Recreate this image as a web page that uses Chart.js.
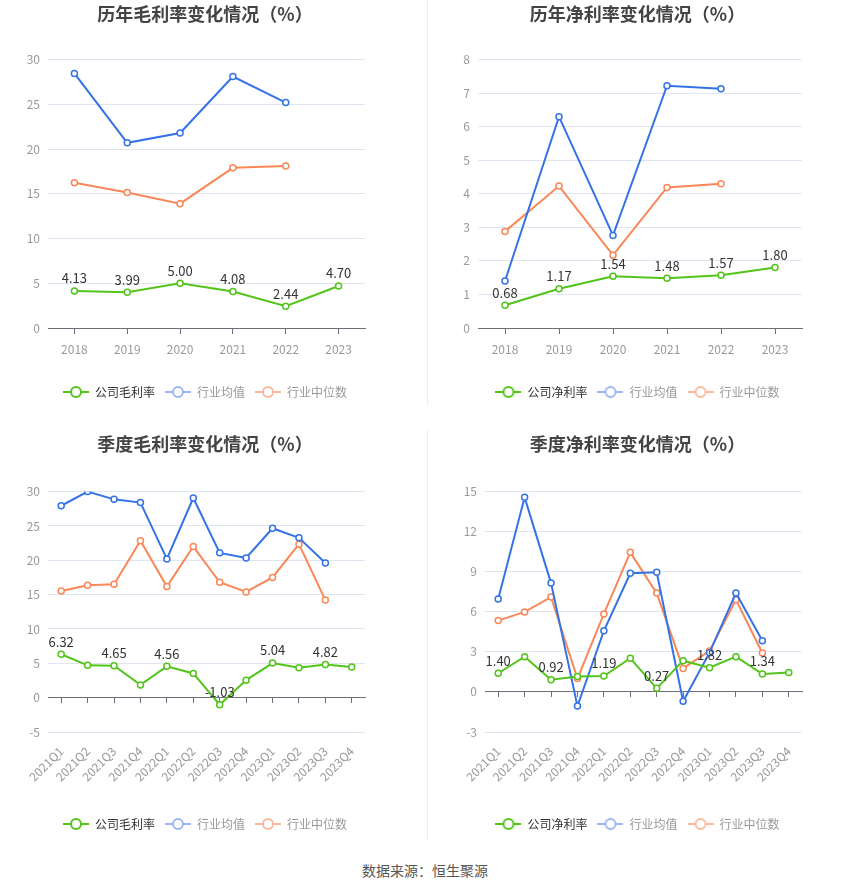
<!DOCTYPE html>
<html>
<head>
<meta charset="utf-8">
<script src="https://cdn.jsdelivr.net/npm/chart.js@4.4.1/dist/chart.umd.min.js"></script>
<style>
  body { margin: 0; background: #fff; width: 850px; height: 891px; position: relative; overflow: hidden; }
  .box { position: absolute; }
  .divider { position: absolute; left: 427px; width: 1px; background: #eeeeee; }
  #source { position: absolute; left: 0; width: 850px; top: 860px; text-align: center;
    font: 14px "Noto Sans CJK SC", "Noto Sans", sans-serif; color: #555; }
</style>
</head>
<body>
<div class="box" style="left:0;top:0;width:410px;height:410px"><canvas id="c1"></canvas></div>
<div class="box" style="left:425px;top:0;width:425px;height:410px"><canvas id="c2"></canvas></div>
<div class="box" style="left:0;top:430px;width:410px;height:415px"><canvas id="c3"></canvas></div>
<div class="box" style="left:425px;top:430px;width:425px;height:415px"><canvas id="c4"></canvas></div>
<div class="divider" style="top:0;height:405px"></div>
<div class="divider" style="top:430px;height:410px"></div>
<div id="source">数据来源：恒生聚源</div>
<script>
// years
const years = ['2018', '2019', '2020', '2021', '2022', '2023'];
const grossCompany = [4.13, 3.99, 5.00, 4.08, 2.44, 4.70];
const grossAvg = [28.46, 20.7, 21.8, 28.1, 25.2];
const grossMedian = [16.24, 15.15, 13.9, 17.9, 18.1];

const netCompany = [0.68, 1.17, 1.54, 1.48, 1.57, 1.80];
const netAvg = [1.40, 6.30, 2.76, 7.22, 7.13];
const netMedian = [2.88, 4.23, 2.17, 4.19, 4.30];

// quarters
const quarters = ['2021Q1', '2021Q2', '2021Q3', '2021Q4', '2022Q1', '2022Q2', '2022Q3', '2022Q4', '2023Q1', '2023Q2', '2023Q3', '2023Q4'];
const qGrossCompany = [6.32, 4.70, 4.65, 1.86, 4.56, 3.53, -1.03, 2.55, 5.04, 4.36, 4.82, 4.46];
const qGrossAvg = [27.94, 30.0, 28.87, 28.4, 20.2, 29.07, 21.08, 20.34, 24.66, 23.28, 19.6];
const qGrossMedian = [15.54, 16.37, 16.52, 22.84, 16.18, 22.0, 16.8, 15.4, 17.5, 22.35, 14.2];

const qNetCompany = [1.40, 2.64, 0.92, 1.16, 1.19, 2.52, 0.27, 2.34, 1.82, 2.64, 1.34, 1.46];
const qNetAvg = [6.95, 14.57, 8.15, -1.06, 4.58, 8.88, 8.96, -0.70, 2.94, 7.40, 3.83];
const qNetMedian = [5.34, 5.99, 7.10, 1.0, 5.84, 10.45, 7.40, 1.76, 3.07, 6.90, 2.92];

const FONT = '"Noto Sans CJK SC", "Noto Sans", sans-serif';
const GREEN = '#52c41a';
const BLUE = '#3473e6';
const ORANGE = '#fa8757';

// legend marker: short line with hollow circle
function marker(color) {
    const c = document.createElement('canvas');
    c.width = 26; c.height = 14;
    const g = c.getContext('2d');
    g.strokeStyle = color;
    g.lineWidth = 2;
    g.beginPath(); g.moveTo(0, 7); g.lineTo(26, 7); g.stroke();
    g.fillStyle = '#fff';
    g.beginPath(); g.arc(13, 7, 5, 0, Math.PI * 2); g.fill(); g.stroke();
    return c;
}
const legendStyle = [
    { img: marker(GREEN), text: '#333' },
    { img: marker('#9ab8f5'), text: '#999' },
    { img: marker('#fdb8a0'), text: '#999' }
];

// value labels over company series
const valueLabels = {
    id: 'valueLabels',
    afterDatasetsDraw(chart, args, opts) {
        const ctx = chart.ctx;
        const meta = chart.getDatasetMeta(0);
        const data = chart.data.datasets[0].data;
        ctx.save();
        ctx.font = '13px ' + FONT;
        ctx.fillStyle = '#333';
        ctx.textAlign = 'center';
        ctx.textBaseline = 'bottom';
        meta.data.forEach((pt, i) => {
            if (i % opts.every !== 0) return;
            ctx.fillText(data[i].toFixed(2), pt.x, pt.y - 6);
        });
        ctx.restore();
    }
};

function makeChart(id, title, labels, company, avg, median, companyName, yMin, yMax, step, cfg) {
    const ds = (label, data, color) => ({
        label: label, data: data, borderColor: color, backgroundColor: '#fff',
        borderWidth: 2, pointRadius: 3, pointBorderWidth: 1.5, pointBackgroundColor: '#fff',
        pointBorderColor: color, tension: 0
    });
    return new Chart(document.getElementById(id), {
        type: 'line',
        data: {
            labels: labels,
            datasets: [
                ds(companyName, company, GREEN),
                ds('行业均值', avg, BLUE),
                ds('行业中位数', median, ORANGE)
            ]
        },
        plugins: [valueLabels],
        options: {
            responsive: true,
            maintainAspectRatio: false,
            animation: false,
            layout: { padding: { left: 0, right: 0, bottom: cfg.padBottom } },
            plugins: {
                tooltip: { enabled: false },
                valueLabels: { every: cfg.every },
                title: {
                    display: true, text: title, color: '#444',
                    font: { family: FONT, size: 18, weight: 'bold' },
                    padding: { top: 3, bottom: cfg.titleGap }
                },
                legend: {
                    position: 'bottom',
                    onClick: null,
                    labels: {
                        usePointStyle: true,
                        pointStyleWidth: 26,
                        padding: 10,
                        font: { family: FONT, size: 12 },
                        generateLabels(chart) {
                            return chart.data.datasets.map((d, i) => ({
                                text: d.label,
                                pointStyle: legendStyle[i].img,
                                fontColor: legendStyle[i].text,
                                strokeStyle: 'transparent',
                                fillStyle: 'transparent',
                                lineWidth: 0,
                                datasetIndex: i
                            }));
                        }
                    }
                }
            },
            scales: {
                x: {
                    type: 'category',
                    offset: true,
                    grid: { display: false },
                    border: { display: false },
                    ticks: {
                        color: '#999', font: { family: FONT, size: 12 },
                        padding: cfg.tickPad, autoSkip: false,
                        maxRotation: cfg.rotate, minRotation: cfg.rotate
                    },
                    afterFit(s) { s.height = cfg.xHeight; }
                },
                xz: {
                    type: 'category',
                    labels: labels,
                    offset: true,
                    position: { y: 0 },
                    grid: { display: true, drawOnChartArea: false, offset: false, tickLength: 5, color: '#6e7079' },
                    border: { display: true, color: '#6e7079', width: 1 },
                    ticks: { display: false }
                },
                y: {
                    min: yMin, max: yMax,
                    ticks: { stepSize: step, color: '#999', font: { family: FONT, size: 12 }, padding: 8 },
                    grid: { color: '#e0e6f1', drawTicks: false },
                    border: { display: false },
                    afterFit(s) { s.width = cfg.yWidth; }
                },
                yr: {
                    position: 'right',
                    grid: { display: false },
                    border: { display: false },
                    ticks: { display: false },
                    afterFit(s) { s.width = cfg.padRight; }
                }
            }
        }
    });
}

makeChart('c1', '历年毛利率变化情况（%）', years, grossCompany, grossAvg, grossMedian, '公司毛利率', 0, 30, 5,
    { padRight: 45, padBottom: 2, titleGap: 35, every: 1, tickPad: 6, rotate: 0, xHeight: 48, yWidth: 48 });
makeChart('c2', '历年净利率变化情况（%）', years, netCompany, netAvg, netMedian, '公司净利率', 0, 8, 1,
    { padRight: 48, padBottom: 2, titleGap: 35, every: 1, tickPad: 6, rotate: 0, xHeight: 48, yWidth: 53 });
makeChart('c3', '季度毛利率变化情况（%）', quarters, qGrossCompany, qGrossAvg, qGrossMedian, '公司毛利率', -5, 30, 5,
    { padRight: 45, padBottom: 5, titleGap: 37, every: 2, tickPad: 4, rotate: 45, xHeight: 76, yWidth: 48 });
makeChart('c4', '季度净利率变化情况（%）', quarters, qNetCompany, qNetAvg, qNetMedian, '公司净利率', -3, 15, 3,
    { padRight: 48, padBottom: 5, titleGap: 37, every: 2, tickPad: 4, rotate: 45, xHeight: 76, yWidth: 60 });
</script>
</body>
</html>
